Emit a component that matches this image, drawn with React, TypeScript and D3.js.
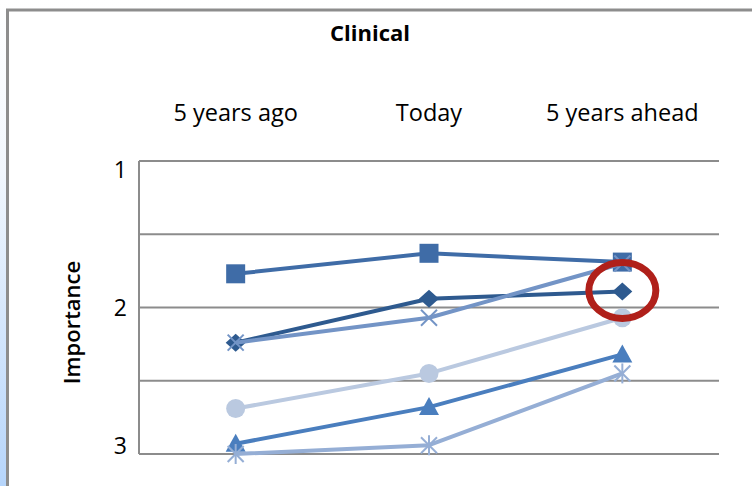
import React from "react";
import * as d3 from "d3";

const categories = ["5 years ago", "Today", "5 years ahead"];
const yTicks = [1, 2, 3];
const seriesNames = ["Diamond", "Square", "Triangle", "Cross", "Star", "Circle"];
const diamondValues = [2.24, 1.94, 1.89];
const squareValues = [1.77, 1.63, 1.69];
const triangleValues = [2.93, 2.68, 2.32];
const crossValues = [2.24, 2.07, 1.70];
const starValues = [3.0, 2.94, 2.45];
const circleValues = [2.69, 2.45, 2.07];
const seriesColors = ["#2E5A8F", "#3F6CA7", "#4A7EBE", "#7394C6", "#95AED5", "#BAC9E0"];
const seriesShapes = ["diamond", "square", "triangle", "x", "star", "circle"];

const W = 752;
const H = 486;
const plotLeft = 139;
const plotRight = 719;
const plotTop = 161;
const plotBottom = 454;

function Marker({ shape, color, x, y }: { shape: string; color: string; x: number; y: number }) {
  const s = 9.5;
  if (shape === "square") return <rect x={x - s} y={y - s} width={2 * s} height={2 * s} fill={color} />;
  if (shape === "diamond")
    return <path d={`M${x},${y - 9}L${x + 10},${y}L${x},${y + 9}L${x - 10},${y}Z`} fill={color} />;
  if (shape === "triangle")
    return <path d={`M${x},${y - 10}L${x + 10},${y + 8}L${x - 10},${y + 8}Z`} fill={color} />;
  if (shape === "circle") return <circle cx={x} cy={y} r={9.5} fill={color} />;
  if (shape === "x")
    return (
      <g stroke={color} strokeWidth={2}>
        <line x1={x - 8} y1={y - 8} x2={x + 8} y2={y + 8} />
        <line x1={x - 8} y1={y + 8} x2={x + 8} y2={y - 8} />
      </g>
    );
  if (shape === "star")
    return (
      <g stroke={color} strokeWidth={2}>
        <line x1={x - 8} y1={y - 8} x2={x + 8} y2={y + 8} />
        <line x1={x - 8} y1={y + 8} x2={x + 8} y2={y - 8} />
        <line x1={x} y1={y - 10} x2={x} y2={y + 10} />
      </g>
    );
  return null;
}

export default function App() {
  const x = d3.scalePoint<string>().domain(categories).range([plotLeft, plotRight]).padding(0.5);
  const y = d3.scaleLinear().domain([1, 3]).range([plotTop, plotBottom]);
  const yLabel = d3.scaleLinear().domain([1, 3]).range([170, 446]);
  const allValues = [diamondValues, squareValues, triangleValues, crossValues, starValues, circleValues];
  const line = d3
    .line<number>()
    .x((_, i) => x(categories[i]) as number)
    .y((d) => y(d));
  const gridValues = d3.range(1, 3.01, 0.5);
  const font = "'Open Sans', sans-serif";
  const drawOrder = [0, 1, 2, 3, 4, 5];
  const redX = x(categories[2]) as number;
  const redY = y(diamondValues[2]);

  return (
    <svg width={W} height={H} style={{ position: "absolute", left: 0, top: 0 }} fontFamily={font}>
      <defs>
        <linearGradient id="bg" x1="0" y1="0" x2="0" y2="1">
          <stop offset="0" stopColor="#ffffff" />
          <stop offset="0.35" stopColor="#f2f7fd" />
          <stop offset="1" stopColor="#b6d5fb" />
        </linearGradient>
      </defs>
      <rect x={0} y={0} width={W} height={H} fill="url(#bg)" />
      <rect x={7.5} y={10} width={W + 20} height={H + 20} fill="#ffffff" stroke="#8d8d8d" strokeWidth={3} />

      <text x={370} y={41} textAnchor="middle" fontSize={22} fontWeight={700} fill="#000">
        Clinical
      </text>

      {categories.map((c) => (
        <text key={c} x={x(c)} y={121} textAnchor="middle" fontSize={23.5} fill="#000">
          {c}
        </text>
      ))}

      {gridValues.map((v) => (
        <line key={v} x1={plotLeft} x2={plotRight} y1={y(v)} y2={y(v)} stroke="#8c8c8c" strokeWidth={2} />
      ))}
      <line x1={plotLeft} x2={plotLeft} y1={plotTop} y2={plotBottom} stroke="#8c8c8c" strokeWidth={2} />

      {yTicks.map((t) => (
        <text key={t} x={127} y={yLabel(t) + 8} textAnchor="end" fontSize={23} fill="#000">
          {t}
        </text>
      ))}

      <text
        transform={`translate(80, ${(plotTop + plotBottom) / 2 + 15}) rotate(-90)`}
        textAnchor="middle"
        fontSize={22}
        fontWeight={600}
        fill="#000"
      >
        Importance
      </text>

      {drawOrder.map((si) => (
        <g key={seriesNames[si]}>
          <path d={line(allValues[si]) as string} fill="none" stroke={seriesColors[si]} strokeWidth={4} strokeLinejoin="round" />
          {allValues[si].map((v, i) => (
            <Marker key={i} shape={seriesShapes[si]} color={seriesColors[si]} x={x(categories[i]) as number} y={y(v)} />
          ))}
        </g>
      ))}

      <ellipse cx={redX} cy={redY - 1} rx={33.5} ry={28} fill="none" stroke="#B0201A" strokeWidth={7} />
    </svg>
  );
}
